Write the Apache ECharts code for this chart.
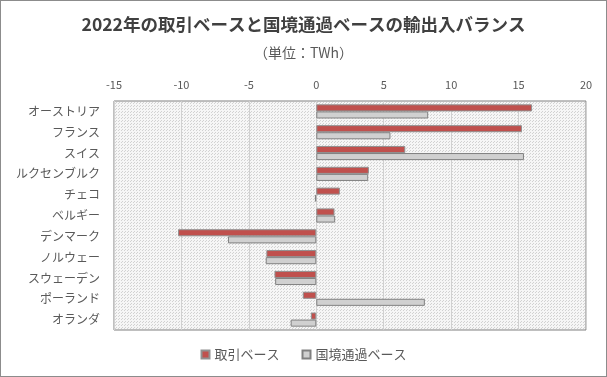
<!DOCTYPE html>
<html>
<head>
<meta charset="utf-8">
<script src="https://cdn.jsdelivr.net/npm/echarts@6/dist/echarts.min.js"></script>
<style>
    html, body { margin: 0; padding: 0; background: #fff; }
    #chart { width: 605px; height: 375px; border: 1px solid #8c8c8c; }
</style>
</head>
<body>
<div id="chart"></div>
<script>
    // 国名（上から順）
    var countries = ['オーストリア', 'フランス', 'スイス', 'ルクセンブルク', 'チェコ', 'ベルギー',
                     'デンマーク', 'ノルウェー', 'スウェーデン', 'ポーランド', 'オランダ'];
    // 取引ベース (TWh)
    var tradeBase = [16.0, 15.25, 6.6, 3.9, 1.75, 1.35, -10.25, -3.7, -3.1, -1.0, -0.4];
    // 国境通過ベース (TWh)
    var borderBase = [8.3, 5.5, 15.4, 3.85, -0.1, 1.4, -6.55, -3.75, -3.05, 8.05, -1.9];
    var seriesNames = ['取引ベース', '国境通過ベース'];

    var font = '"Noto Sans CJK JP", sans-serif';

    // 点描の背景パターン
    var pat = document.createElement('canvas');
    pat.width = 3; pat.height = 3;
    var ctx = pat.getContext('2d');
    ctx.fillStyle = '#f6f6f6';
    ctx.fillRect(0, 0, 3, 3);
    ctx.fillStyle = '#d2d2d2';
    ctx.fillRect(0, 0, 1, 1);
    ctx.fillRect(1, 2, 1, 1);

    var chart = echarts.init(document.getElementById('chart'));
    chart.setOption({
        animation: false,
        textStyle: { fontFamily: font },
        title: [
            {
                text: '2022年の取引ベースと国境通過ベースの輸出入バランス',
                left: 'center', top: 10,
                textStyle: { fontSize: 17.5, fontWeight: 'bold', color: '#404040', fontFamily: font }
            },
            {
                text: '（単位：TWh）',
                left: 'center', top: 40,
                textStyle: { fontSize: 14, fontWeight: 'normal', color: '#595959', fontFamily: font }
            }
        ],
        legend: {
            data: seriesNames,
            bottom: 10,
            left: 'center',
            itemWidth: 8, itemHeight: 8, itemGap: 22,
            icon: 'rect',
            textStyle: { fontSize: 13, color: '#595959', fontFamily: font }
        },
        grid: {
            left: 113, right: 20, top: 100, bottom: 46,
            show: true,
            backgroundColor: { image: pat, repeat: 'repeat' },
            borderColor: '#808080', borderWidth: 1
        },
        xAxis: {
            type: 'value',
            position: 'top',
            min: -15, max: 20, interval: 5,
            axisLine: { show: false },
            axisTick: { show: false },
            axisLabel: { fontSize: 11, color: '#595959', margin: 11 },
            splitLine: { lineStyle: { color: '#d0d0d0' } }
        },
        yAxis: {
            type: 'category',
            data: countries,
            inverse: true,
            axisLine: { show: false },
            axisTick: { show: false },
            axisLabel: { fontSize: 12, color: '#595959', margin: 14 }
        },
        series: [
            {
                name: seriesNames[0],
                type: 'bar',
                data: tradeBase,
                barGap: '0%',
                barCategoryGap: '32%',
                itemStyle: { color: '#c0504d', borderColor: '#909090', borderWidth: 1 }
            },
            {
                name: seriesNames[1],
                type: 'bar',
                data: borderBase,
                itemStyle: { color: '#d0d0d0', borderColor: '#808080', borderWidth: 1 }
            }
        ]
    });
</script>
</body>
</html>
